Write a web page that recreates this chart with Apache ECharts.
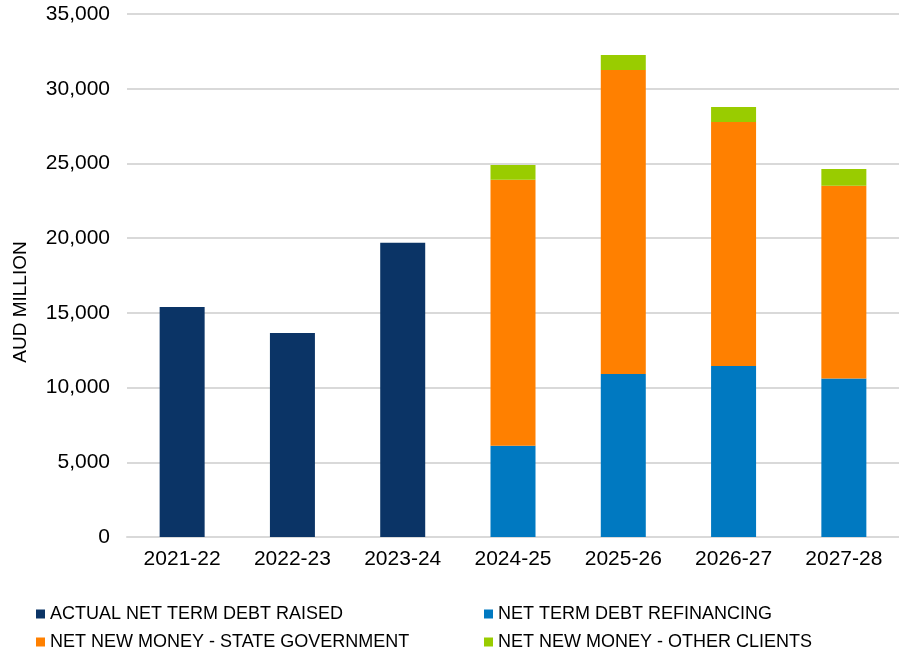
<!DOCTYPE html>
<html>
<head>
<meta charset="utf-8">
<script src="https://cdn.jsdelivr.net/npm/echarts@6/dist/echarts.min.js"></script>
<style>
  html, body { margin: 0; padding: 0; background: #fff; }
  #main { width: 899px; height: 651px; }
</style>
</head>
<body>
<div id="main"></div>
<script>
// 数据
var years = ['2021-22', '2022-23', '2023-24', '2024-25', '2025-26', '2026-27', '2027-28'];
var actualRaised = [15400, 13650, 19700, null, null, null, null];
var refinancing = [null, null, null, 6100, 10900, 11450, 10600];
var stateGov = [null, null, null, 17800, 20350, 16330, 12900];
var otherClients = [null, null, null, 1000, 1000, 1000, 1130];
var yTicks = [0, 5000, 10000, 15000, 20000, 25000, 30000, 35000];

var names = [
    'ACTUAL NET TERM DEBT RAISED',
    'NET TERM DEBT REFINANCING',
    'NET NEW MONEY - STATE GOVERNMENT',
    'NET NEW MONEY - OTHER CLIENTS'
];
var colors = ['#0b3466', '#0079c1', '#ff8000', '#99cc00'];
var font = 'Liberation Sans, Arial, sans-serif';

var myChart = echarts.init(document.getElementById('main'));

function bar(i, data) {
    return {
        name: names[i],
        type: 'bar',
        stack: 'total',
        barWidth: 45,
        itemStyle: { color: colors[i] },
        data: data
    };
}

// 图例：两列两行，每项单独放
function legendItem(i, left, top) {
    return {
        left: left, top: top, orient: 'horizontal',
        itemWidth: 9, itemHeight: 9, icon: 'rect', itemGap: 0, itemTextGap: 6,
        padding: 0,
        textStyle: { color: '#000', fontSize: 18, fontFamily: font },
        data: [names[i]]
    };
}

myChart.setOption({
    animation: false,
    grid: { left: 127, right: 0, top: 14, bottom: 114 },
    legend: [
        legendItem(0, 36, 605),
        legendItem(2, 36, 633),
        legendItem(1, 484, 605),
        legendItem(3, 484, 633)
    ],
    graphic: [{
        type: 'text',
        x: 21, y: 302,
        rotation: Math.PI / 2,
        style: {
            text: 'AUD MILLION',
            fill: '#000',
            font: '19px ' + font,
            align: 'center',
            verticalAlign: 'middle'
        }
    }],
    xAxis: {
        type: 'category',
        data: years,
        axisLine: { lineStyle: { color: '#d9d9d9', width: 2 } },
        axisTick: { show: false },
        axisLabel: { color: '#000', fontSize: 21, fontFamily: font, margin: 12 }
    },
    yAxis: {
        type: 'value',
        min: yTicks[0],
        max: yTicks[yTicks.length - 1],
        interval: yTicks[1] - yTicks[0],
        axisLine: { show: false },
        axisTick: { show: false },
        splitLine: { lineStyle: { color: '#d9d9d9', width: 2 } },
        axisLabel: {
            color: '#000', fontSize: 21, fontFamily: font, margin: 17,
            formatter: function (v) { return v.toLocaleString('en-US'); }
        }
    },
    series: [
        bar(0, actualRaised),
        bar(1, refinancing),
        bar(2, stateGov),
        bar(3, otherClients)
    ]
});
</script>
</body>
</html>
